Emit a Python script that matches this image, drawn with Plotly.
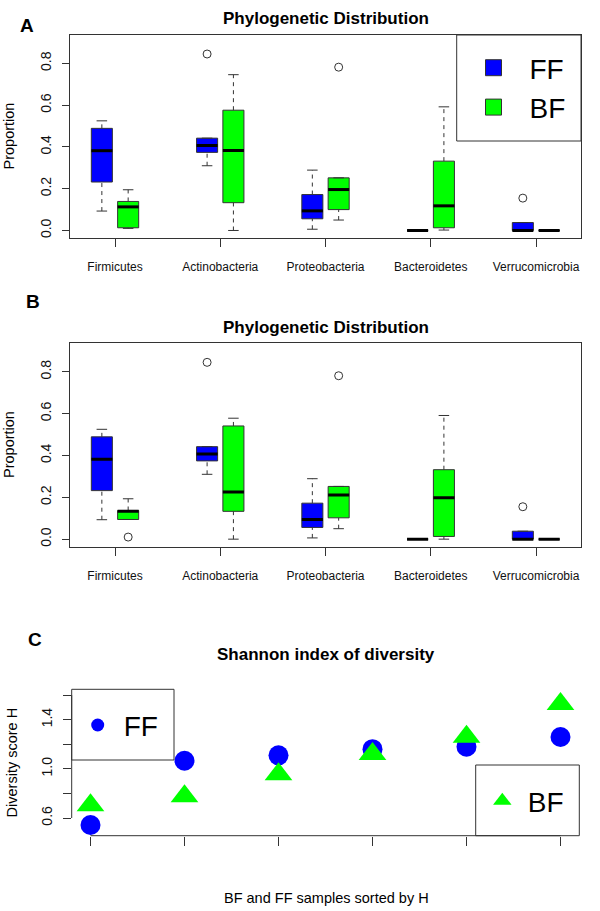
import plotly.graph_objects as go

# ---------------- data ----------------
categories = ["Firmicutes", "Actinobacteria", "Proteobacteria", "Bacteroidetes", "Verrucomicrobia"]
prop_ticks = [0.0, 0.2, 0.4, 0.6, 0.8]
prop_ticklabels = ["0.0", "0.2", "0.4", "0.6", "0.8"]

# Panel A — FF
a_ff_low = [0.093, 0.310, 0.006, 0.0, 0.0]
a_ff_q1 = [0.232, 0.374, 0.056, 0.0, 0.0]
a_ff_med = [0.382, 0.407, 0.094, 0.0, 0.0]
a_ff_q3 = [0.489, 0.442, 0.172, 0.0, 0.038]
a_ff_high = [0.525, 0.442, 0.289, 0.0, 0.038]
a_ff_out_cat = ["Actinobacteria", "Verrucomicrobia"]
a_ff_out_val = [0.845, 0.155]
# Panel A — BF
a_bf_low = [0.010, 0.0, 0.050, 0.002, 0.0]
a_bf_q1 = [0.013, 0.133, 0.100, 0.013, 0.0]
a_bf_med = [0.113, 0.383, 0.196, 0.118, 0.0]
a_bf_q3 = [0.139, 0.576, 0.252, 0.332, 0.0]
a_bf_high = [0.195, 0.746, 0.252, 0.592, 0.0]
a_bf_out_cat = ["Proteobacteria"]
a_bf_out_val = [0.782]

# Panel B — FF
b_ff_low = [0.093, 0.310, 0.006, 0.0, 0.0]
b_ff_q1 = [0.232, 0.374, 0.056, 0.0, 0.0]
b_ff_med = [0.382, 0.407, 0.094, 0.0, 0.0]
b_ff_q3 = [0.489, 0.442, 0.172, 0.0, 0.038]
b_ff_high = [0.525, 0.442, 0.289, 0.0, 0.038]
b_ff_out_cat = ["Actinobacteria", "Verrucomicrobia"]
b_ff_out_val = [0.845, 0.155]
# Panel B — BF
b_bf_low = [0.094, 0.0, 0.050, 0.0, 0.0]
b_bf_q1 = [0.094, 0.133, 0.102, 0.013, 0.0]
b_bf_med = [0.134, 0.225, 0.211, 0.198, 0.0]
b_bf_q3 = [0.137, 0.541, 0.252, 0.332, 0.0]
b_bf_high = [0.193, 0.578, 0.252, 0.591, 0.0]
b_bf_out_cat = ["Firmicutes", "Proteobacteria"]
b_bf_out_val = [0.010, 0.781]

# Panel C — Shannon index
samples = [1, 2, 3, 4, 5, 6]
ff_H = [0.543, 1.066, 1.110, 1.160, 1.180, 1.259]
bf_H = [0.703, 0.778, 0.956, 1.120, 1.261, 1.528]
h_ticks = [0.6, 0.8, 1.0, 1.2, 1.4, 1.6]
h_ticklabels = ["0.6", "", "1.0", "", "1.4", ""]

# ---------------- style ----------------
FF_COLOR = "#0000FF"
BF_COLOR = "#00FF00"
LINE = "#333333"
FONT = "Liberation Sans, Arial, Helvetica, sans-serif"
W, H = 600, 911
BOX_HALF = 0.1
CAP_HALF = 0.05
SHIFT = 0.125


def px_x(v):
    return v / W


def px_y(v):
    return 1 - v / H


fig = go.Figure()


def add_group(xa, ya, low, q1, med, q3, high, out_cat, out_val, shift, color):
    pos = [i + 1 + shift for i in range(len(categories))]
    wx, wy, cx, cy, mx, my = [], [], [], [], [], []
    for p, lo, a, m, b, hi in zip(pos, low, q1, med, q3, high):
        wx += [p, p, None, p, p, None]
        wy += [b, hi, None, lo, a, None]
        cx += [p - CAP_HALF, p + CAP_HALF, None, p - CAP_HALF, p + CAP_HALF, None]
        cy += [hi, hi, None, lo, lo, None]
        mx += [p - BOX_HALF, p + BOX_HALF, None]
        my += [m, m, None]
    fig.add_trace(go.Scatter(x=wx, y=wy, mode="lines", xaxis=xa, yaxis=ya,
                             line=dict(color=LINE, width=1, dash="4px,4px"),
                             showlegend=False, hoverinfo="skip"))
    fig.add_trace(go.Scatter(x=cx, y=cy, mode="lines", xaxis=xa, yaxis=ya,
                             line=dict(color=LINE, width=1),
                             showlegend=False, hoverinfo="skip"))
    fig.add_trace(go.Bar(x=pos, y=[b - a for a, b in zip(q1, q3)], base=q1,
                         width=2 * BOX_HALF, xaxis=xa, yaxis=ya,
                         marker=dict(color=color, line=dict(color=LINE, width=1)),
                         showlegend=False, hoverinfo="skip"))
    fig.add_trace(go.Scatter(x=mx, y=my, mode="lines", xaxis=xa, yaxis=ya,
                             line=dict(color="#000000", width=3),
                             showlegend=False, hoverinfo="skip"))
    ox = [categories.index(c) + 1 + shift for c in out_cat]
    fig.add_trace(go.Scatter(x=ox, y=out_val, mode="markers", xaxis=xa, yaxis=ya,
                             marker=dict(symbol="circle-open", size=8,
                                         line=dict(color=LINE, width=1), color=LINE),
                             showlegend=False, hoverinfo="skip"))


add_group("x", "y", a_ff_low, a_ff_q1, a_ff_med, a_ff_q3, a_ff_high,
          a_ff_out_cat, a_ff_out_val, -SHIFT, FF_COLOR)
add_group("x", "y", a_bf_low, a_bf_q1, a_bf_med, a_bf_q3, a_bf_high,
          a_bf_out_cat, a_bf_out_val, SHIFT, BF_COLOR)
add_group("x2", "y2", b_ff_low, b_ff_q1, b_ff_med, b_ff_q3, b_ff_high,
          b_ff_out_cat, b_ff_out_val, -SHIFT, FF_COLOR)
add_group("x2", "y2", b_bf_low, b_bf_q1, b_bf_med, b_bf_q3, b_bf_high,
          b_bf_out_cat, b_bf_out_val, SHIFT, BF_COLOR)

# legend proxies for panel A
fig.add_trace(go.Scatter(x=[None], y=[None], mode="markers", name="FF", legend="legend",
                         xaxis="x", yaxis="y",
                         marker=dict(symbol="square", size=16, color=FF_COLOR,
                                     line=dict(color=LINE, width=1))))
fig.add_trace(go.Scatter(x=[None], y=[None], mode="markers", name="BF", legend="legend",
                         xaxis="x", yaxis="y",
                         marker=dict(symbol="square", size=16, color=BF_COLOR,
                                     line=dict(color=LINE, width=1))))

# Panel C points
fig.add_trace(go.Scatter(x=samples, y=ff_H, mode="markers", xaxis="x3", yaxis="y3",
                         marker=dict(symbol="circle", size=20, color=FF_COLOR),
                         showlegend=False, hoverinfo="skip"))
fig.add_trace(go.Scatter(x=samples, y=bf_H, mode="markers", xaxis="x3", yaxis="y3",
                         marker=dict(symbol="triangle-up", size=24, color=BF_COLOR),
                         showlegend=False, hoverinfo="skip"))
fig.add_trace(go.Scatter(x=[None], y=[None], mode="markers", name="FF", legend="legend2",
                         xaxis="x3", yaxis="y3",
                         marker=dict(symbol="circle", size=13, color=FF_COLOR)))
fig.add_trace(go.Scatter(x=[None], y=[None], mode="markers", name="BF", legend="legend3",
                         xaxis="x3", yaxis="y3",
                         marker=dict(symbol="triangle-up", size=16, color=BF_COLOR)))

box_x_range = [0.5724, 5.4276]
prop_range = [-0.036, 0.936]

common_x = dict(showgrid=False, zeroline=False, showline=True, mirror=True,
                linecolor=LINE, linewidth=1, ticks="outside", ticklen=8,
                tickcolor=LINE, tickfont=dict(size=12, color="#111", family=FONT),
                ticklabelstandoff=10, range=box_x_range,
                tickvals=[i + 1 for i in range(len(categories))], ticktext=categories)
common_y = dict(showgrid=False, zeroline=False, showline=True, mirror=True,
                linecolor=LINE, linewidth=1, ticks="outside", ticklen=7,
                tickcolor=LINE, tickfont=dict(size=14, color="#111", family=FONT),
                tickangle=-90, ticklabelstandoff=5, range=prop_range,
                tickvals=prop_ticks, ticktext=prop_ticklabels)

fig.update_layout(
    width=W, height=H, margin=dict(l=0, r=0, t=0, b=0),
    paper_bgcolor="white", plot_bgcolor="white", barmode="overlay",
    font=dict(family=FONT, color="#000"),
    xaxis=dict(domain=[px_x(70), px_x(581)], anchor="y", **common_x),
    yaxis=dict(domain=[px_y(238), px_y(35)], anchor="x", **common_y),
    xaxis2=dict(domain=[px_x(70), px_x(581)], anchor="y2", **common_x),
    yaxis2=dict(domain=[px_y(546.7), px_y(343.3)], anchor="x2", **common_y),
    xaxis3=dict(domain=[px_x(71.7), px_x(579.3)], anchor="y3", range=[0.8, 6.2],
                showgrid=False, zeroline=False, showline=False, ticks="outside",
                ticklen=9, tickcolor=LINE, tickvals=samples,
                ticktext=["" for _ in samples]),
    yaxis3=dict(domain=[px_y(835.7), px_y(689.7)], anchor="x3", range=[0.456, 1.644],
                showgrid=False, zeroline=False, showline=False, ticks="outside",
                ticklen=8, tickcolor=LINE, tickvals=h_ticks, ticktext=h_ticklabels,
                tickangle=-90, ticklabelstandoff=5,
                tickfont=dict(size=14, color="#111", family=FONT)),
    legend=dict(x=px_x(457.5), y=px_y(43), xanchor="left", yanchor="top",
                bgcolor="rgba(0,0,0,0)", borderwidth=0, itemwidth=62,
                font=dict(size=28, family=FONT, color="#000"), tracegroupgap=0),
    legend2=dict(x=px_x(71.7), y=px_y(700.3), xanchor="left", yanchor="top",
                 bgcolor="rgba(0,0,0,0)", borderwidth=0, itemwidth=42,
                 font=dict(size=28, family=FONT, color="#000")),
    legend3=dict(x=px_x(476.8), y=px_y(776), xanchor="left", yanchor="top",
                 bgcolor="rgba(0,0,0,0)", borderwidth=0, itemwidth=41,
                 font=dict(size=28, family=FONT, color="#000")),
)

shapes = [
    # legend frames
    dict(type="rect", xref="paper", yref="paper", x0=px_x(456.7), x1=px_x(581),
         y0=px_y(141), y1=px_y(35), line=dict(color=LINE, width=1)),
    dict(type="rect", xref="paper", yref="paper", x0=px_x(71.7), x1=px_x(174),
         y0=px_y(760), y1=px_y(689.3), line=dict(color=LINE, width=1), fillcolor="white",
         layer="below"),
    dict(type="rect", xref="paper", yref="paper", x0=px_x(475.7), x1=px_x(579.3),
         y0=px_y(835.7), y1=px_y(765), line=dict(color=LINE, width=1)),
    # panel C axis lines spanning tick range
    dict(type="line", xref="x3", yref="y3 domain", x0=samples[0], x1=samples[-1],
         y0=0, y1=0, line=dict(color=LINE, width=1)),
    dict(type="line", xref="x3 domain", yref="y3", x0=0, x1=0,
         y0=h_ticks[0], y1=h_ticks[-1], line=dict(color=LINE, width=1)),
]
fig.update_layout(shapes=shapes)

ann = []


def text(x, y, s, size, bold=False, angle=0):
    ann.append(dict(xref="paper", yref="paper", x=px_x(x), y=px_y(y), text=s,
                    showarrow=False, xanchor="center", yanchor="middle", textangle=angle,
                    font=dict(size=size, family=FONT, color="#000",
                              weight="bold" if bold else "normal")))


text(27.5, 25, "A", 19, bold=True)
text(32.7, 301.7, "B", 19, bold=True)
text(35.3, 639.7, "C", 19, bold=True)
text(325.5, 18.7, "Phylogenetic Distribution", 17, bold=True)
text(325.5, 327, "Phylogenetic Distribution", 17, bold=True)
text(325.5, 654.7, "Shannon index of diversity", 17, bold=True)
text(9, 136.5, "Proportion", 14.5, angle=-90)
text(9, 445, "Proportion", 14.5, angle=-90)
text(11.7, 762.7, "Diversity score H", 14.5, angle=-90)
text(326, 897.5, "BF and FF samples sorted by H", 14.5)
fig.update_layout(annotations=ann)

fig.write_html("out.html", config={"displayModeBar": False},
               post_script="document.body.style.margin='0';document.body.style.overflow='hidden';")
